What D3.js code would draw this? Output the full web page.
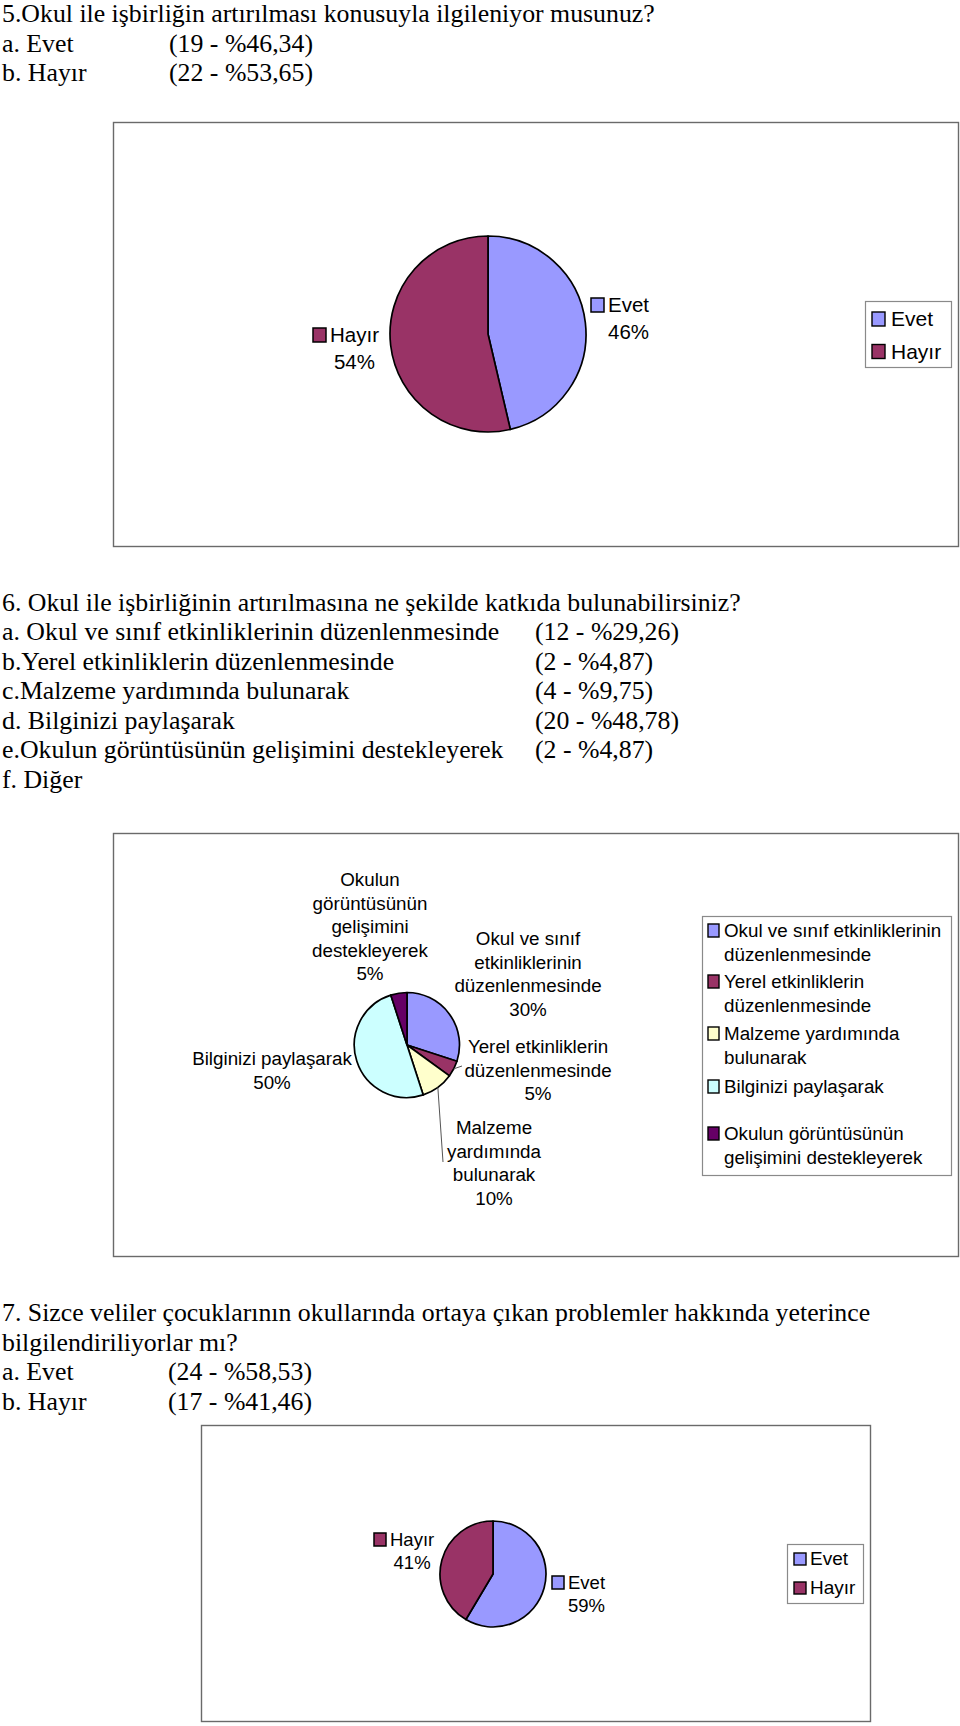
<!DOCTYPE html>
<html><head><meta charset="utf-8">
<script src="https://cdn.jsdelivr.net/npm/d3@7"></script>
<style>html,body{margin:0;padding:0;background:#fff;} svg{display:block}</style>
</head><body>
<svg id="c" width="960" height="1726"></svg>
<script>
// ---------- DATA ----------
const q5Title = ["5.Okul ile işbirliğin artırılması konusuyla ilgileniyor musunuz?"];
const q5Options = ["a. Evet", "b. Hayır"];
const q5Counts = ["(19 - %46,34)", "(22 - %53,65)"];
const q5Categories = ["Evet", "Hayır"];
const q5Values = [19, 22];

const q6Title = ["6. Okul ile işbirliğinin artırılmasına ne şekilde katkıda bulunabilirsiniz?"];
const q6Options = ["a. Okul ve sınıf etkinliklerinin düzenlenmesinde", "b.Yerel etkinliklerin düzenlenmesinde",
  "c.Malzeme yardımında bulunarak", "d. Bilginizi paylaşarak", "e.Okulun görüntüsünün gelişimini destekleyerek", "f. Diğer"];
const q6Counts = ["(12 - %29,26)", "(2 - %4,87)", "(4 - %9,75)", "(20 - %48,78)", "(2 - %4,87)", ""];
const q6Categories = ["Okul ve sınıf etkinliklerinin düzenlenmesinde", "Yerel etkinliklerin düzenlenmesinde",
  "Malzeme yardımında bulunarak", "Bilginizi paylaşarak", "Okulun görüntüsünün gelişimini destekleyerek"];
const q6Values = [12, 2, 4, 20, 2];
const q6LabelLines = [["Okul ve sınıf", "etkinliklerinin", "düzenlenmesinde"], ["Yerel etkinliklerin", "düzenlenmesinde"],
  ["Malzeme", "yardımında", "bulunarak"], ["Bilginizi paylaşarak"], ["Okulun", "görüntüsünün", "gelişimini", "destekleyerek"]];
const q6LegendLines = [["Okul ve sınıf etkinliklerinin", "düzenlenmesinde"], ["Yerel etkinliklerin", "düzenlenmesinde"],
  ["Malzeme yardımında", "bulunarak"], ["Bilginizi paylaşarak"], ["Okulun görüntüsünün", "gelişimini destekleyerek"]];

const q7Title = ["7. Sizce veliler çocuklarının okullarında ortaya çıkan problemler hakkında yeterince", "bilgilendiriliyorlar mı?"];
const q7Options = ["a. Evet", "b. Hayır"];
const q7Counts = ["(24 - %58,53)", "(17 - %41,46)"];
const q7Categories = ["Evet", "Hayır"];
const q7Values = [24, 17];

const yesNoColors = ["#9999FF", "#993366"];
const q6Colors = ["#9999FF", "#993366", "#FFFFCC", "#CCFFFF", "#660066"];

// ---------- HELPERS ----------
const svg = d3.select("#c");
svg.append("rect").attr("width", 960).attr("height", 1726).attr("fill", "#fff");
const SERIF = "'Liberation Serif','Times New Roman',serif";
const SANS = "'Liberation Sans',Arial,sans-serif";
const pct = d3.format(".0%");

function textBlock(title, options, counts, x0, xCol, y0, step) {
  const g = svg.append("g").attr("font-family", SERIF).attr("font-size", 25.8).attr("fill", "#000");
  const lines = title.map(t => ({ a: t, b: "" })).concat(options.map((o, i) => ({ a: o, b: counts[i] })));
  lines.forEach((l, i) => {
    g.append("text").attr("x", x0).attr("y", y0 + i * step).text(l.a);
    if (l.b) g.append("text").attr("x", xCol).attr("y", y0 + i * step).text(l.b);
  });
}

function frame(x0, y0, x1, y1) {
  svg.append("rect").attr("x", x0 + 0.5).attr("y", y0 + 0.5).attr("width", x1 - x0).attr("height", y1 - y0)
    .attr("fill", "#fff").attr("stroke", "#6a6a6a").attr("stroke-width", 1.4);
}

function pieChart(values, colors, cx, cy, r) {
  const arcs = d3.pie().sort(null).value(d => d)(values);
  const arc = d3.arc().innerRadius(0).outerRadius(r);
  const g = svg.append("g").attr("transform", `translate(${cx},${cy})`);
  g.selectAll("path").data(arcs).join("path")
    .attr("d", arc).attr("fill", (d, i) => colors[i])
    .attr("stroke", "#000").attr("stroke-width", 1.7).attr("stroke-linejoin", "round");
  return { arcs, edge: d3.arc().innerRadius(r).outerRadius(r), cx, cy };
}

function legend(box, names, colors, sq, textX, baselines, fs) {
  svg.append("rect").attr("x", box[0] + 0.5).attr("y", box[1] + 0.5).attr("width", box[2] - box[0]).attr("height", box[3] - box[1])
    .attr("fill", "#fff").attr("stroke", "#8a8a8a").attr("stroke-width", 1.2);
  const g = svg.append("g").attr("font-family", SANS).attr("font-size", fs).attr("fill", "#000");
  names.forEach((lines, i) => {
    const b = baselines[i];
    g.append("rect").attr("x", sq.x).attr("y", b - sq.h).attr("width", sq.w).attr("height", sq.h)
      .attr("fill", colors[i]).attr("stroke", "#000").attr("stroke-width", 1.4);
    lines.forEach((t, j) => g.append("text").attr("x", textX).attr("y", b + j * sq.lh).text(t));
  });
}

// keyed label: square + name, percent centered beneath name
function keyedLabel(name, value, total, color, sx, base, sqw, sqh, fs, lh) {
  const g = svg.append("g").attr("font-family", SANS).attr("font-size", fs).attr("fill", "#000");
  g.append("rect").attr("x", sx).attr("y", base - sqh).attr("width", sqw).attr("height", sqh)
    .attr("fill", color).attr("stroke", "#000").attr("stroke-width", 1.5);
  const t = g.append("text").attr("x", sx + sqw + 4).attr("y", base).text(name);
  const w = t.node().getComputedTextLength();
  g.append("text").attr("x", sx + sqw + 4 + w / 2).attr("y", base + lh).attr("text-anchor", "middle").text(pct(value / total));
}

// ---------- Q5 ----------
textBlock(q5Title, q5Options, q5Counts, 2, 169, 22, 29.5);
frame(113, 122, 958, 546);
{
  const total = d3.sum(q5Values);
  pieChart(q5Values, yesNoColors, 488, 334, 98);
  const pos = [{ sx: 591, base: 312 }, { sx: 313, base: 342 }];
  q5Categories.forEach((c, i) => keyedLabel(c, q5Values[i], total, yesNoColors[i], pos[i].sx, pos[i].base, 13, 14, 20.5, 27));
  legend([865, 301, 951, 367], q5Categories.map(c => [c]), yesNoColors, { x: 872, w: 13, h: 14, lh: 0 }, 891, [326, 358.5], 21);
}

// ---------- Q6 ----------
textBlock(q6Title, q6Options, q6Counts, 2, 535, 610.5, 29.5);
frame(113, 833, 958, 1256);
{
  const total = d3.sum(q6Values);
  const p = pieChart(q6Values, q6Colors, 407, 1045, 52.5);
  const lh = 23.6;
  const labelPos = [{ x: 528, y: 945 }, { x: 538, y: 1053 }, { x: 494, y: 1134 }, { x: 272, y: 1065 }, { x: 370, y: 886 }];
  const g = svg.append("g").attr("font-family", SANS).attr("font-size", 18.8).attr("fill", "#000").attr("text-anchor", "middle");
  q6LabelLines.forEach((lines, i) => {
    const all = lines.concat([pct(q6Values[i] / total)]);
    all.forEach((t, j) => g.append("text").attr("x", labelPos[i].x).attr("y", labelPos[i].y + j * lh).text(t));
  });
  // leader lines
  const leaderEnds = { 1: [462, 1066], 2: [443, 1162] };
  Object.keys(leaderEnds).forEach(k => {
    const c = p.edge.centroid(p.arcs[k]);
    svg.append("line").attr("x1", p.cx + c[0]).attr("y1", p.cy + c[1])
      .attr("x2", leaderEnds[k][0]).attr("y2", leaderEnds[k][1])
      .attr("stroke", "#555").attr("stroke-width", 1);
  });
  legend([702, 916, 951, 1175], q6LegendLines, q6Colors, { x: 708, w: 11, h: 13, lh: 23.5 }, 724,
    [937, 988, 1040, 1093, 1140], 18.8);
}

// ---------- Q7 ----------
textBlock(q7Title, q7Options, q7Counts, 2, 168, 1321, 29.6);
frame(201, 1425, 870, 1721);
{
  const total = d3.sum(q7Values);
  pieChart(q7Values, yesNoColors, 493, 1574, 53);
  const pos = [{ sx: 552, base: 1589 }, { sx: 374, base: 1546 }];
  q7Categories.forEach((c, i) => keyedLabel(c, q7Values[i], total, yesNoColors[i], pos[i].sx, pos[i].base, 12, 13, 18.5, 23));
  legend([787, 1544, 863, 1603], q7Categories.map(c => [c]), yesNoColors, { x: 794, w: 12, h: 12, lh: 0 }, 810, [1565, 1594], 19);
}
</script>
</body></html>
